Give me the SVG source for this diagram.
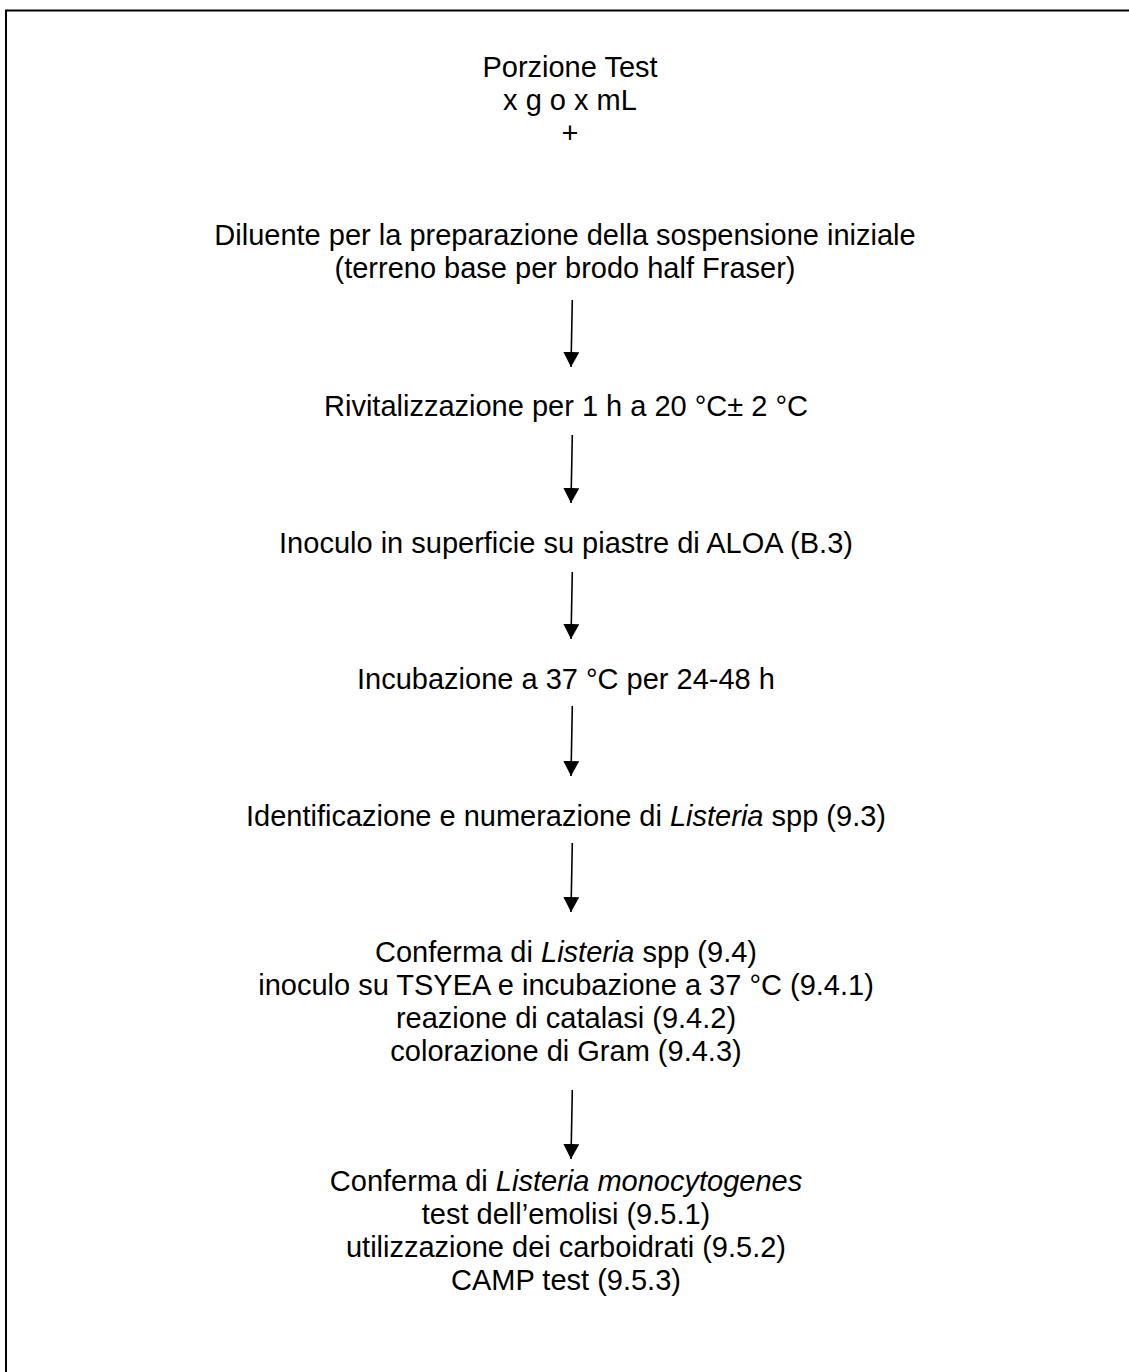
<svg xmlns="http://www.w3.org/2000/svg" width="1129" height="1372" viewBox="0 0 1129 1372">
<style>
text{font-family:"Liberation Sans",Arial,sans-serif;font-size:29px;fill:#000;text-anchor:middle}
.it{font-style:italic}
.conn line{stroke:#000;stroke-width:1.6}
</style>
<defs>
<marker id="ah" viewBox="0 0 15 16" refX="15" refY="8" markerWidth="15" markerHeight="16" markerUnits="userSpaceOnUse" orient="auto">
<path d="M0,0 L15,8 L0,16 Z" fill="#000"/>
</marker>
</defs>
<rect x="0" y="0" width="1129" height="1372" fill="#fff"/>
<rect x="6" y="10.5" width="1300" height="1500" fill="none" stroke="#000" stroke-width="2"/>
<g id="n1">
<text x="570" y="77">Porzione Test</text>
<text x="570" y="110">x g o x mL</text>
<text x="570" y="143">+</text>
</g>
<g id="n2">
<text x="565" y="245">Diluente per la preparazione della sospensione iniziale</text>
<text x="565" y="278">(terreno base per brodo half Fraser)</text>
</g>
<g id="n3"><text x="566" y="416">Rivitalizzazione per 1 h a 20 °C± 2 °C</text></g>
<g id="n4"><text x="566" y="553">Inoculo in superficie su piastre di ALOA (B.3)</text></g>
<g id="n5"><text x="566" y="689">Incubazione a 37 °C per 24-48 h</text></g>
<g id="n6"><text x="566" y="826">Identificazione e numerazione di <tspan class="it">Listeria</tspan> spp (9.3)</text></g>
<g id="n7">
<text x="566" y="962">Conferma di <tspan class="it">Listeria</tspan> spp (9.4)</text>
<text x="566" y="995">inoculo su TSYEA e incubazione a 37 °C (9.4.1)</text>
<text x="566" y="1028">reazione di catalasi (9.4.2)</text>
<text x="566" y="1061">colorazione di Gram (9.4.3)</text>
</g>
<g id="n8">
<text x="566" y="1191">Conferma di <tspan class="it">Listeria monocytogenes</tspan></text>
<text x="566" y="1224">test dell’emolisi (9.5.1)</text>
<text x="566" y="1257">utilizzazione dei carboidrati (9.5.2)</text>
<text x="566" y="1290">CAMP test (9.5.3)</text>
</g>
<g class="conn" id="connectors">
<line x1="572.3" y1="300" x2="571" y2="367" marker-end="url(#ah)"/>
<line x1="572.3" y1="435" x2="571" y2="503" marker-end="url(#ah)"/>
<line x1="572.3" y1="572" x2="571" y2="639" marker-end="url(#ah)"/>
<line x1="572.3" y1="706" x2="571" y2="776" marker-end="url(#ah)"/>
<line x1="572.3" y1="843" x2="571" y2="912" marker-end="url(#ah)"/>
<line x1="572.3" y1="1090" x2="571" y2="1159" marker-end="url(#ah)"/>
</g>
</svg>
